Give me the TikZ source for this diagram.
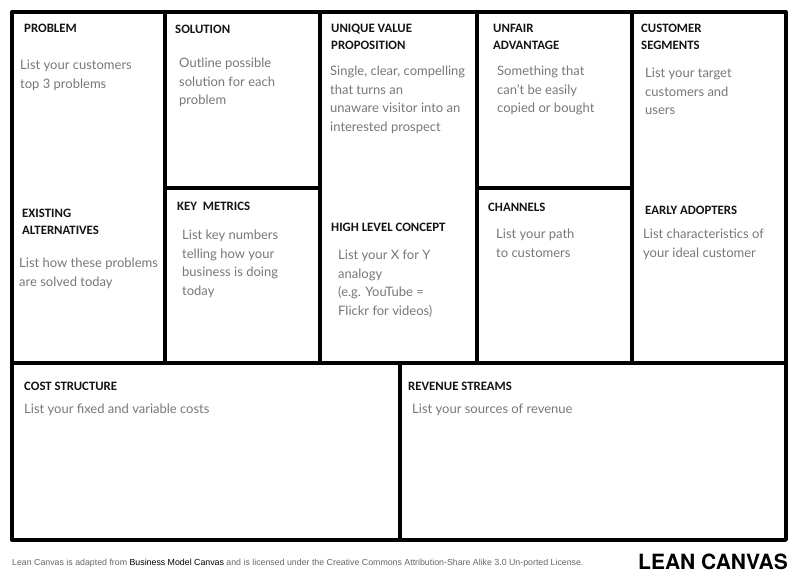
\documentclass[tikz,border=0pt]{standalone}
\usepackage{fontspec}
\setmainfont{Lato}
\newfontfamily\headfont{Carlito}
\newfontfamily\footfont{Liberation Sans}
\newfontfamily\brandfont{TeX Gyre Heros}
\definecolor{notegray}{HTML}{777777}
\definecolor{footgray}{HTML}{666666}
\tikzset{
  frame/.style={line width=3.3pt, line cap=round, line join=round},
  head/.style={anchor=north west, inner sep=0pt, align=left, text=black!92,
    font=\headfont\bfseries\fontsize{12.8}{17}\selectfont},
  note/.style={anchor=north west, inner sep=0pt, align=left, text=notegray,
    font=\fontsize{13}{18.5}\selectfont},
}
\begin{document}
\begin{tikzpicture}[x=1pt,y=-1pt]
\useasboundingbox (0,0) rectangle (800,579);
% the canvas frame
\draw[frame] (12,12) rectangle (786,540);
\draw[frame] (12,363)--(786,363);
\draw[frame] (165,12)--(165,363);
\draw[frame] (320,12)--(320,363);
\draw[frame] (477,12)--(477,363);
\draw[frame] (632,12)--(632,363);
\draw[frame] (165,188)--(320,188);
\draw[frame] (477,188)--(632,188);
\draw[frame] (400,363)--(400,540);
% headings
\node[head] (problem) at (24,23.5) {PROBLEM};
\node[head] (solution) at (175,24.5) {SOLUTION};
\node[head] (uvp) at (331,23.5) {UNIQUE VALUE\\PROPOSITION};
\node[head] (unfair) at (493,23.5) {UNFAIR\\ADVANTAGE};
\node[head] (segments) at (641,23.5) {CUSTOMER\\SEGMENTS};
\node[head] (existing) at (22,208.5) {EXISTING\\ALTERNATIVES};
\node[head] (metrics) at (177,201.5) {KEY\ \ METRICS};
\node[head] (concept) at (331,222.5) {HIGH LEVEL CONCEPT};
\node[head] (channels) at (488,202.5) {CHANNELS};
\node[head] (adopters) at (645,205.5) {EARLY ADOPTERS};
\node[head] (cost) at (24,381.5) {COST STRUCTURE};
\node[head] (revenue) at (408,381.5) {REVENUE STREAMS};
% notes
\node[note] (problemnote) at (20,60) {List your customers\\top 3 problems};
\node[note] (solutionnote) at (179,58) {Outline possible\\solution for each\\problem};
\node[note] (uvpnote) at (330,66) {Single, clear, compelling\\that turns an\\unaware visitor into an\\interested prospect};
\node[note] (unfairnote) at (497,66) {Something that\\can’t be easily\\copied or bought};
\node[note] (segmentsnote) at (645,68) {List your target\\customers and\\users};
\node[note] (existingnote) at (19,258) {List how these problems\\are solved today};
\node[note] (metricsnote) at (182,230) {List key numbers\\telling how your\\business is doing\\today};
\node[note] (conceptnote) at (338,250) {List your X for Y\\analogy\\(e.g. YouTube =\\Flickr for videos)};
\node[note] (channelsnote) at (496,229) {List your path\\to customers};
\node[note] (adoptersnote) at (643,229) {List characteristics of\\your ideal customer};
\node[note] (costnote) at (24,404) {List your fixed and variable costs};
\node[note] (revenuenote) at (412,404) {List your sources of revenue};
% footer
\node[anchor=west, inner sep=0pt, text=footgray, font=\footfont\fontsize{8.8}{10}\selectfont]
  (credit) at (12,563) {Lean Canvas is adapted from \textcolor{black}{Business Model Canvas} and is licensed under the Creative Commons Attribution-Share Alike 3.0 Un-ported License.};
\node[anchor=east, inner sep=0pt, font=\brandfont\bfseries\fontsize{21}{24}\selectfont]
  (brand) at (788,562) {LEAN CANVAS};
\end{tikzpicture}
\end{document}
